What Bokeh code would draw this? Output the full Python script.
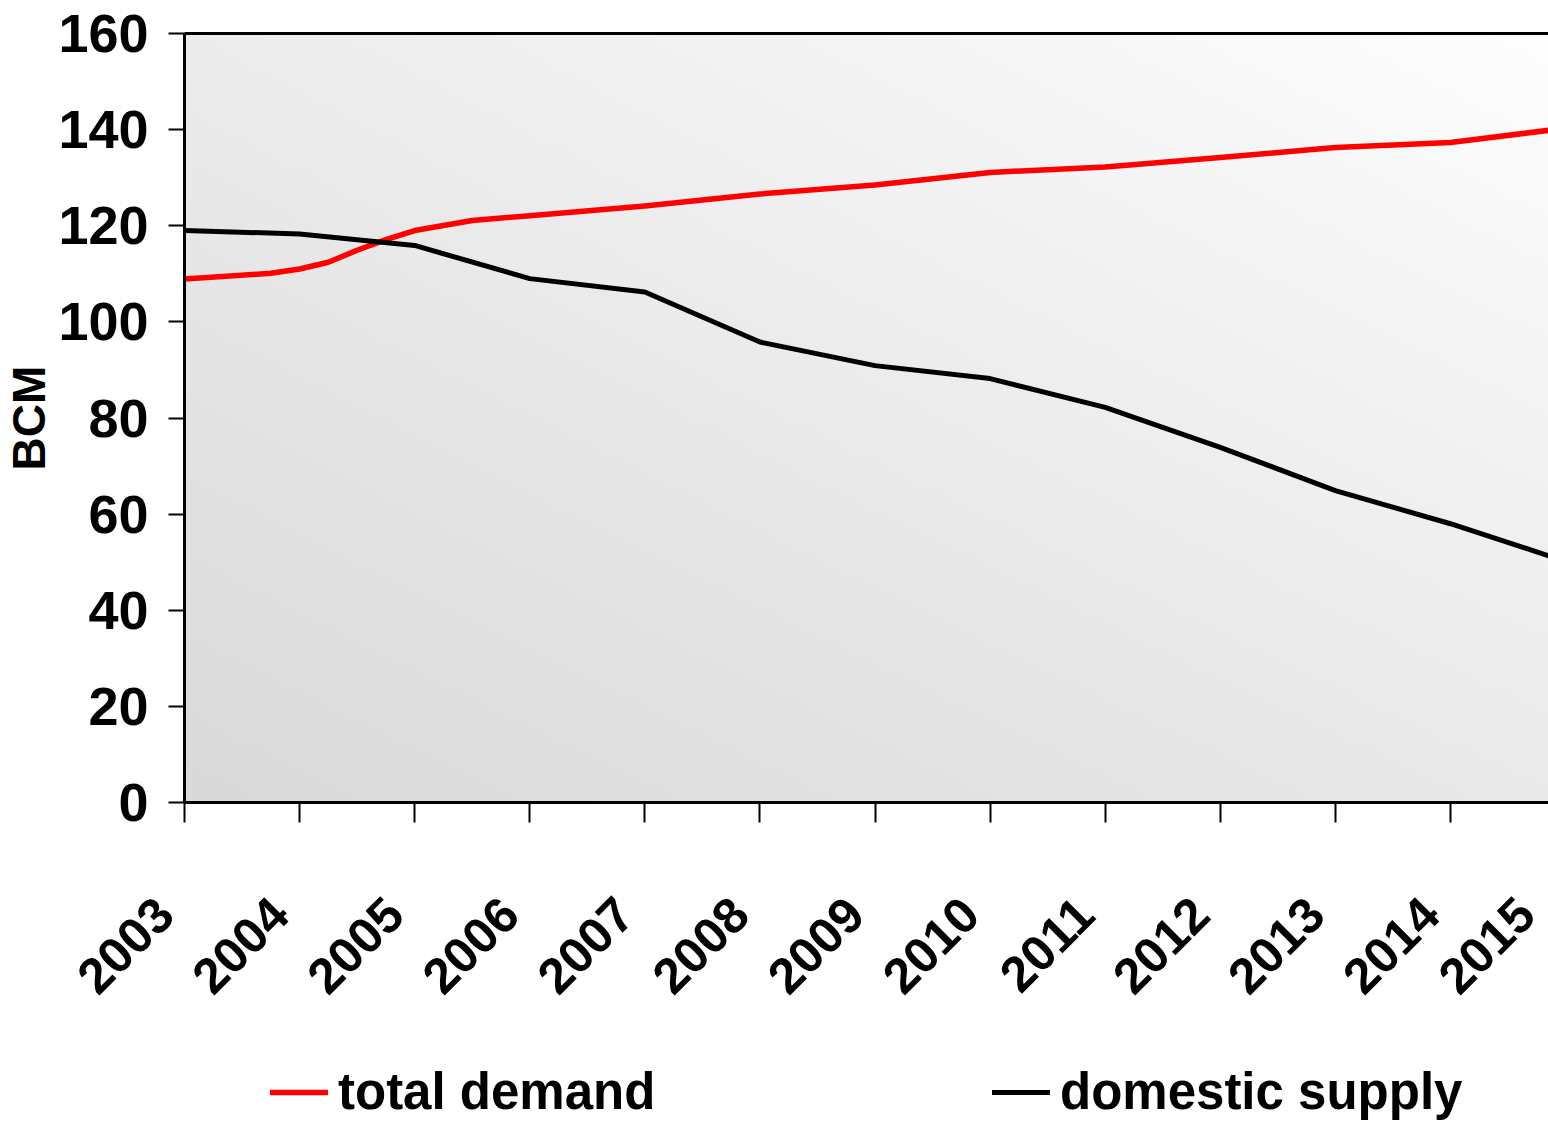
import numpy as np
from bokeh.plotting import figure
from bokeh.layouts import column
from bokeh.models import (LinearAxis, FixedTicker, Range1d, Legend, LegendItem,
                          CustomJSTickFormatter)
from bokeh.embed import file_html
from bokeh.resources import INLINE

# ---------------- data ----------------
demand_years = [2003, 2003.75, 2004, 2004.25, 2004.5, 2004.75, 2005, 2005.5,
                2006, 2007, 2008, 2009, 2010, 2011, 2012, 2013, 2014, 2015]
total_demand = [108.9, 110.1, 111.0, 112.4, 114.9, 117.1, 119.0, 121.1,
                122.1, 124.1, 126.6, 128.5, 131.1, 132.2, 134.2, 136.3, 137.3, 140.3]

supply_years = [2003, 2004, 2005, 2006, 2007, 2008, 2009, 2010, 2011, 2012, 2013, 2014, 2015]
domestic_supply = [119.0, 118.3, 115.9, 109.0, 106.2, 95.8, 90.9, 88.2, 82.2, 73.9, 64.9, 58.0, 50.2]

x_tick_years = [2003, 2004, 2005, 2006, 2007, 2008, 2009, 2010, 2011, 2012, 2013, 2014, 2015]
y_ticks = [0, 20, 40, 60, 80, 100, 120, 140, 160]
series_names = ["total demand", "domestic supply"]

# ---------------- style ----------------
FONT = "Liberation Sans"
X_START, X_END = 2003, 2015
Y_START, Y_END = 0, 160
RED = "#ff0000"
W = 1565

p = figure(width=W, height=1042,
           x_range=Range1d(X_START, X_END), y_range=Range1d(Y_START, Y_END),
           output_backend="svg", toolbar_location=None,
           min_border_left=184, min_border_right=0,
           min_border_top=33, min_border_bottom=240)
p.xgrid.visible = False
p.ygrid.visible = False
p.outline_line_color = None
p.background_fill_color = "white"
p.border_fill_color = "white"

# gradient plot area background (dark bottom-left -> white top-right)
nx, ny = 240, 120
gx, gy = np.meshgrid(np.linspace(0, 1, nx), np.linspace(0, 1, ny))
BL, BR, TL, TR = 217, 234, 236, 254
g = (BL * (1 - gx) * (1 - gy) + BR * gx * (1 - gy) + TL * (1 - gx) * gy + TR * gx * gy).astype(np.uint8)
img = np.empty((ny, nx), dtype=np.uint32)
view = img.view(dtype=np.uint8).reshape((ny, nx, 4))
view[..., 0] = g
view[..., 1] = g
view[..., 2] = g
view[..., 3] = 255
p.image_rgba(image=[img], x=X_START, y=Y_START, dw=X_END - X_START, dh=Y_END - Y_START)

p.line(demand_years, total_demand, line_color=RED, line_width=5.5,
       line_join="round", line_cap="round")
p.line(supply_years, domestic_supply, line_color="black", line_width=5,
       line_join="round", line_cap="round")

# y axis
yax = p.yaxis[0]
yax.ticker = FixedTicker(ticks=y_ticks)
yax.axis_line_width = 3
yax.axis_line_color = "black"
yax.major_tick_out = 16
yax.major_tick_in = 0
yax.major_tick_line_width = 2
yax.minor_tick_line_color = None
yax.major_label_text_font = FONT
yax.major_label_text_font_size = "54px"
yax.major_label_text_font_style = "bold"
yax.major_label_text_color = "black"
yax.major_label_standoff = 20
yax.axis_label = "BCM"
yax.axis_label_text_font = FONT
yax.axis_label_text_font_size = "46px"
yax.axis_label_text_font_style = "bold"
yax.axis_label_text_color = "black"
yax.axis_label_standoff = 0

# x axis: tick marks only
xax = p.xaxis[0]
xax.ticker = FixedTicker(ticks=x_tick_years)
xax.axis_line_width = 3
xax.axis_line_color = "black"
xax.major_tick_out = 20
xax.major_tick_in = 0
xax.major_tick_line_width = 2
xax.minor_tick_line_color = None
xax.major_label_text_font_size = "0px"
xax.major_label_standoff = 0
xax.major_label_overrides = {y: "" for y in x_tick_years}

# x axis: rotated year labels (a trailing figure space sets them slightly left of the tick)
label_axis = LinearAxis(
    ticker=FixedTicker(ticks=x_tick_years),
    formatter=CustomJSTickFormatter(code="return String(Math.round(tick)) + '\\u2007'"),
    axis_line_color=None, major_tick_line_color=None, minor_tick_line_color=None,
    major_tick_out=0, major_tick_in=0,
    major_label_orientation=np.pi / 4, major_label_standoff=64,
    major_label_text_font=FONT, major_label_text_font_size="50px",
    major_label_text_font_style="bold", major_label_text_color="black")
p.add_layout(label_axis, "below")

# top border line
top = LinearAxis(ticker=FixedTicker(ticks=[]), axis_line_width=3, axis_line_color="black",
                 major_tick_line_color=None, minor_tick_line_color=None,
                 major_label_text_font_size="0px", major_label_standoff=0)
p.add_layout(top, "above")

# ---------------- legend strip (its frame is aligned with the chart frame) ----------------
leg = figure(width=W, height=80, x_range=Range1d(0, 1), y_range=Range1d(0, 1),
             output_backend="svg", toolbar_location=None,
             x_axis_type=None, y_axis_type=None,
             min_border_left=0, min_border_right=0, min_border_top=0, min_border_bottom=0)
leg.xgrid.visible = False
leg.ygrid.visible = False
leg.outline_line_color = None
leg.background_fill_color = "white"
leg.border_fill_color = "white"
# same series, outside this strip's ranges: they only supply the legend glyph styles
k_demand = leg.line(demand_years, total_demand, line_color=RED, line_width=5.5, line_cap="round")
k_supply = leg.line(supply_years, domestic_supply, line_color="black", line_width=5, line_cap="round")

legend = Legend(items=[LegendItem(label=series_names[0], renderers=[k_demand]),
                       LegendItem(label=series_names[1], renderers=[k_supply])],
                location=(86, 1), orientation="horizontal",
                glyph_width=58, glyph_height=20, label_standoff=10,
                label_width=600, spacing=54, padding=0, margin=0,
                border_line_color=None, background_fill_alpha=0,
                label_text_font=FONT, label_text_font_size="51px",
                label_text_font_style="bold", label_text_color="black")
leg.add_layout(legend, "center")

layout = column(p, leg, spacing=0)
open("out.html", "w").write(file_html(layout, INLINE))
